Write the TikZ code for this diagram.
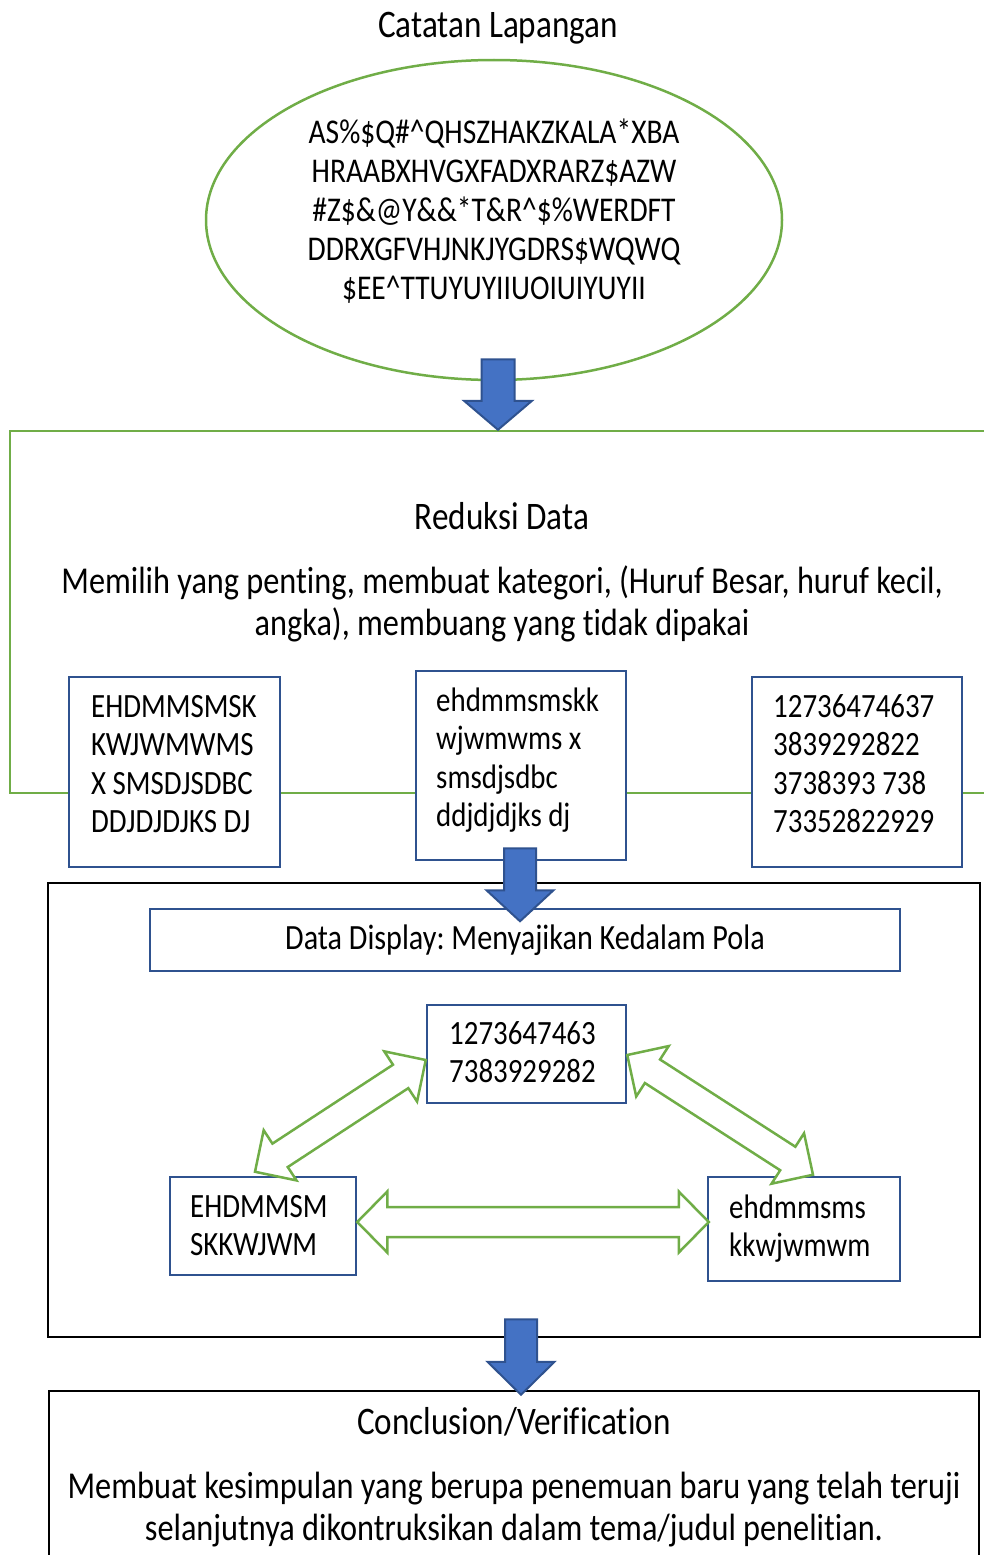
\documentclass[tikz,border=0pt]{standalone}
\usepackage{fontspec}
\setmainfont{Carlito}[FakeStretch=0.85,Ligatures=NoCommon]
\frenchspacing
\usetikzlibrary{calc,shapes.geometric}
\definecolor{grn}{HTML}{70AD47}
\definecolor{navy}{HTML}{2F528F}
\definecolor{blu}{HTML}{4472C4}
\newcommand\myfs{\fontsize{34}{38.5}\selectfont}
\newcommand\myfsa{\fontsize{34.7}{39}\selectfont}
\newcommand\myfsb{\fontsize{38}{42}\selectfont}
\newcommand\myfst{\fontsize{39}{42}\selectfont}
\newcommand\myfsd{\fontsize{35.5}{40}\selectfont}
\tikzset{
  greenline/.style={draw=grn,line width=2.5pt},
  bluebox/.style={draw=navy,line width=2.5pt,fill=white,inner sep=0pt},
  blackbox/.style={draw=black,line width=2.5pt,inner sep=0pt},
  txt/.style={inner sep=0pt,font=\myfs,align=left},
  ttl/.style={inner sep=0pt,font=\myfst,anchor=base},
  blockarrow/.style={fill=blu,draw=navy,line width=2pt,line join=miter},
  dblarrow/.style={fill=white,draw=grn,line width=2.5pt,line join=miter},
}
% single block arrow: from, to, shaft half width, head half width, head length
\newcommand\singleblock[5]{%
  \path let \p1=(#1),\p2=(#2) in \pgfextra{%
    \pgfmathparse{atan2(\y2-\y1,\x2-\x1)}\xdef\aang{\pgfmathresult}%
    \pgfmathparse{veclen(\x2-\x1,\y2-\y1)}\xdef\alen{\pgfmathresult}};
  \begin{scope}[shift={(#1)},rotate=\aang,x=1pt,y=1pt]
    \draw[blockarrow] (0,#3) -- ({\alen-#5},#3) -- ({\alen-#5},#4) -- (\alen,0)
      -- ({\alen-#5},-#4) -- ({\alen-#5},-#3) -- (0,-#3) -- cycle;
  \end{scope}}
% double block arrow
\newcommand\doubleblock[5]{%
  \path let \p1=(#1),\p2=(#2) in \pgfextra{%
    \pgfmathparse{atan2(\y2-\y1,\x2-\x1)}\xdef\aang{\pgfmathresult}%
    \pgfmathparse{veclen(\x2-\x1,\y2-\y1)}\xdef\alen{\pgfmathresult}};
  \begin{scope}[shift={(#1)},rotate=\aang,x=1pt,y=1pt]
    \draw[dblarrow] (0,0) -- (#5,#4) -- (#5,#3) -- ({\alen-#5},#3) -- ({\alen-#5},#4)
      -- (\alen,0) -- ({\alen-#5},-#4) -- ({\alen-#5},-#3) -- (#5,-#3) -- (#5,-#4) -- cycle;
  \end{scope}}
\begin{document}
\begin{tikzpicture}[x=1pt,y=-1pt]
\useasboundingbox (0,0) rectangle (984,1555);
% title
\node[ttl] (title) at (498,37.6) {Catatan Lapangan};
% ellipse
\node[ellipse,greenline,minimum width=576pt,minimum height=320pt,inner sep=0pt] (E) at (494,220) {};
\node[txt,align=center,font=\myfsa,anchor=north] (Etxt) at (494,115.7) {\strut AS\%\$Q\#\textasciicircum QHSZHAKZKALA*XBA\\
HRAABXHVGXFADXRARZ\$AZW\\
\#Z\$\&@Y\&\&*T\&R\textasciicircum\$\%WERDFT\\
DDRXGFVHJNKJYGDRS\$WQWQ\\
\$EE\textasciicircum TTUYUYIIUOIUIYUYII};
% reduksi frame
\node[greenline,minimum width=990pt,minimum height=362pt,inner sep=0pt] (R) at (505,612) {};
\node[ttl] (Rtitle) at (502,529.6) {Reduksi Data};
\node[txt,align=center,font=\myfsb,anchor=north] (Rtxt) at (502,563.8) {\strut Memilih yang penting, membuat kategori, (Huruf Besar, huruf kecil,\\
angka), membuang yang tidak dipakai};
% three boxes
\node[bluebox,minimum width=211pt,minimum height=190pt] (A) at (174.5,772) {};
\node[bluebox,minimum width=210pt,minimum height=189pt] (B) at (521,765.5) {};
\node[bluebox,minimum width=210pt,minimum height=190pt] (C) at (857,772) {};
\node[txt,anchor=north west] (Atxt) at (91,690) {\strut EHDMMSMSK\\KWJWMWMS\\X SMSDJSDBC\\DDJDJDJKS DJ};
\node[txt,anchor=north west] (Btxt) at (436,684) {\strut ehdmmsmskk\\wjwmwms x\\smsdjsdbc\\ddjdjdjks dj};
\node[txt,anchor=north west] (Ctxt) at (773,690) {\strut 12736474637\\3839292822\\3738393 738\\73352822929};
% data display frame
\node[blackbox,minimum width=932pt,minimum height=454pt] (K) at (514,1110) {};
\node[bluebox,minimum width=750pt,minimum height=62pt,font=\myfsd] (D) at (525,940) {Data Display: Menyajikan Kedalam Pola};
\node[bluebox,minimum width=199pt,minimum height=98pt] (N) at (526.5,1054) {};
\node[bluebox,minimum width=186pt,minimum height=98pt] (U) at (263,1226) {};
\node[bluebox,minimum width=192pt,minimum height=104pt] (L) at (804,1229) {};
\node[txt,anchor=north west] (Ntxt) at (449,1017) {\strut 1273647463\\7383929282};
\node[txt,anchor=north west] (Utxt) at (190,1190) {\strut EHDMMSM\\SKKWJWM};
\node[txt,anchor=north west] (Ltxt) at (729,1191) {\strut ehdmmsms\\kkwjwmwm};
% conclusion
\node[blackbox,minimum width=930pt,minimum height=189pt] (V) at (514,1485.5) {};
\node[ttl] (Vtitle) at (514,1434.6) {Conclusion/Verification};
\node[txt,align=center,font=\myfsb,anchor=north] (Vtxt) at (514,1468.8) {\strut Membuat kesimpulan yang berupa penemuan baru yang telah teruji\\
selanjutnya dikontruksikan dalam tema/judul penelitian.};
% double arrows
\coordinate (d1a) at ($(U.north)+(-8,-4)$);
\coordinate (d1b) at ($(N.west)+(0,6)$);
\coordinate (d2a) at ($(N.east)+(0,1)$);
\coordinate (d2b) at ($(L.north)+(9,-1)$);
\coordinate (d3a) at ($(U.east)+(0,-4)$);
\coordinate (d3b) at ($(U.east -| L.west)+(2,-4)$);
\doubleblock{d1a}{d1b}{14}{30}{30}
\doubleblock{d2a}{d2b}{14}{30}{30}
\doubleblock{d3a}{d3b}{15}{30.5}{30}
% down arrows
\coordinate (s1a) at ($(E.south)+(4,-22)$);
\coordinate (s1b) at ($(E.south |- R.north)+(4,0)$);
\coordinate (s2a) at ($(B.south)+(-1,-13)$);
\coordinate (s2b) at ($(B.south)+(-1,60)$);
\coordinate (s3a) at ($(K.south)+(7,-19)$);
\coordinate (s3b) at ($(K.south |- V.north)+(7,5)$);
\singleblock{s1a}{s1b}{16.5}{34}{29}
\singleblock{s2a}{s2b}{16}{33.5}{31}
\singleblock{s3a}{s3b}{16}{33.5}{33}
\end{tikzpicture}
\end{document}
